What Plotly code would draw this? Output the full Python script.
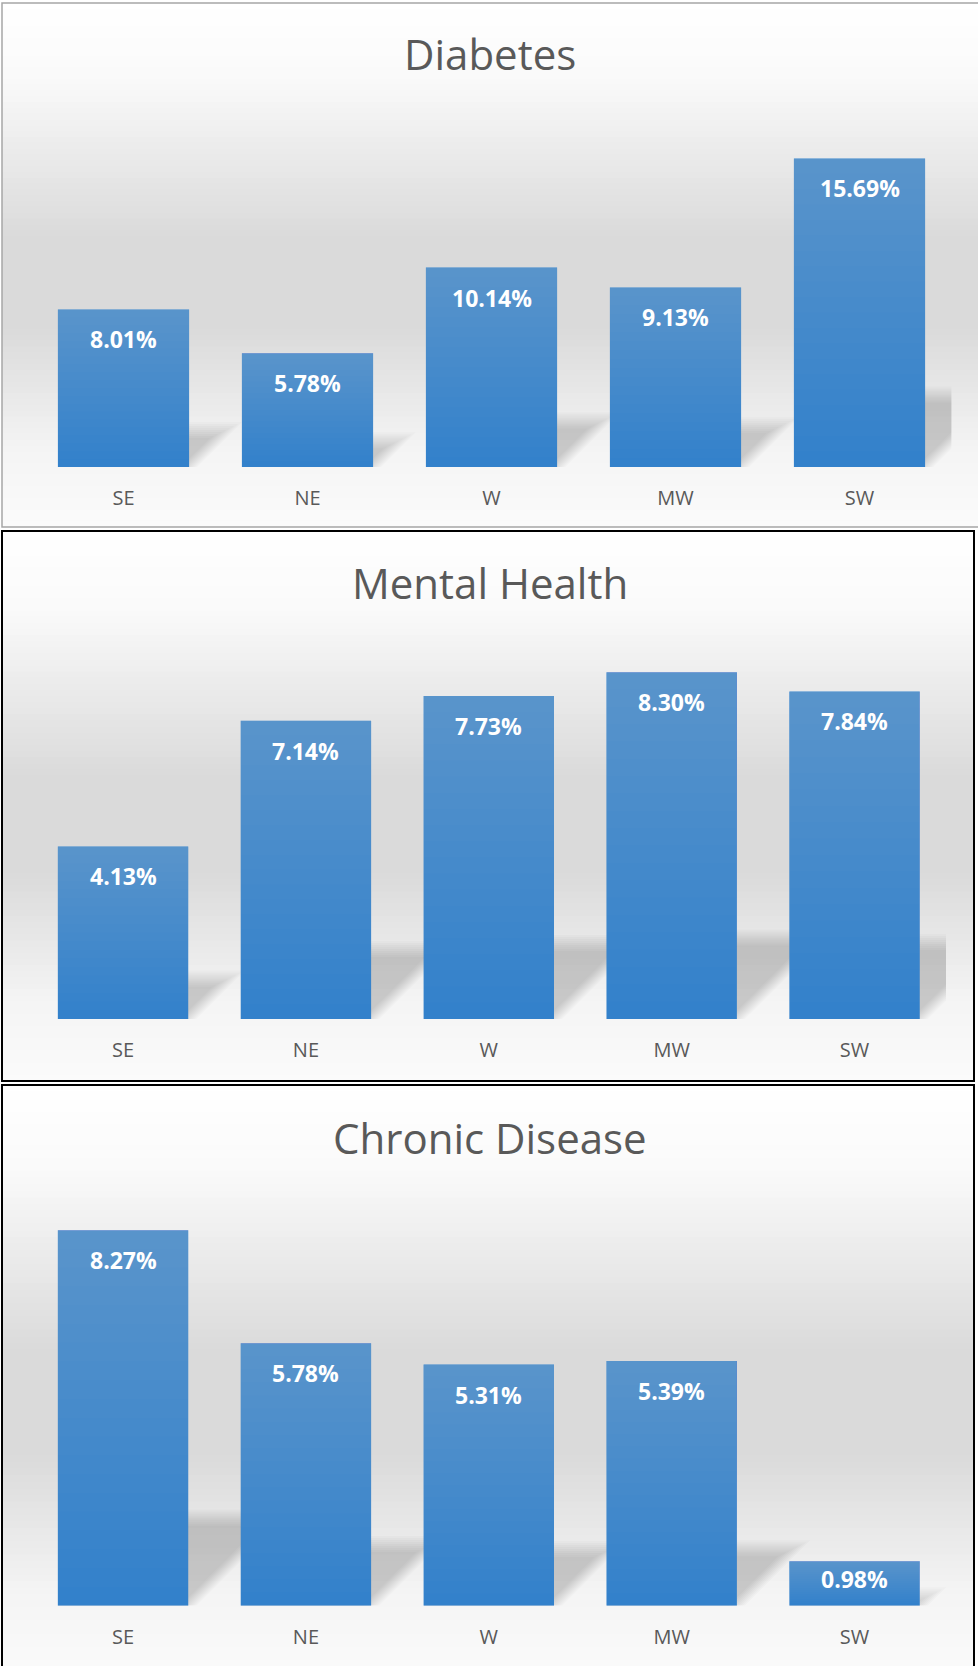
import plotly.graph_objects as go

# ---------------- data ----------------
regions = ["SE", "NE", "W", "MW", "SW"]
diabetes = [8.01, 5.78, 10.14, 9.13, 15.69]
mental_health = [4.13, 7.14, 7.73, 8.30, 7.84]
chronic_disease = [8.27, 5.78, 5.31, 5.39, 0.98]
titles = ["Diabetes", "Mental Health", "Chronic Disease"]

W, H = 978, 1666
FONT = "Open Sans"
GREY_TXT = "#595959"
BAR = "#3381cb"
BARGAP = 0.287


def py(p):
    """pixel (from top) -> paper y"""
    return 1 - p / H


def px(p):
    return p / W


fig = go.Figure()

panels = [
    # (series, x-domain px, y-domain px (bottom, top), y-range max, box px, border color, border width, title y)
    (diabetes, (31.5, 951.5), (467, 113), 18, (2, 3, 990, 527), "#a6a6a6", 1.5, 54),
    (mental_health, (31.6, 946), (1019, 643), 9, (2, 531, 974, 1081), "#000000", 2, 582),
    (chronic_disease, (31.6, 946), (1605.7, 1197), 9, (2, 1085, 974, 1680), "#000000", 2, 1137),
]

shapes = []
annotations = []


def grad_color(t):
    stops = [(0.0, 255), (0.14, 250), (0.45, 218), (0.62, 218), (0.85, 244), (1.0, 251)]
    for (t0, c0), (t1, c1) in zip(stops[:-1], stops[1:]):
        if t0 <= t <= t1:
            c = c0 + (c1 - c0) * (t - t0) / (t1 - t0)
            c = int(round(c))
            return f"rgb({c},{c},{c})"
    return "rgb(251,251,251)"


for i, (vals, xd, yd, ymax, box, bcol, bw, ty) in enumerate(panels):
    n = "" if i == 0 else str(i + 1)
    xa, ya = "x" + n, "y" + n
    # background gradient bands (overlapping slightly to avoid seams)
    x0, y0, x1, y1 = box
    nb = 90
    hb = (y1 - y0) / nb
    for k in range(nb):
        top = y0 + hb * k
        bot = min(y1, top + hb + 1.5)
        shapes.append(dict(
            type="rect", xref="paper", yref="paper", layer="below",
            x0=px(x0), x1=px(x1), y0=py(bot), y1=py(top),
            fillcolor=grad_color((k + 0.5) / nb), line=dict(width=0),
        ))
    # border
    shapes.append(dict(
        type="rect", xref="paper", yref="paper", layer="above",
        x0=px(x0), x1=px(x1), y0=py(y1), y1=py(y0),
        fillcolor="rgba(0,0,0,0)", line=dict(color=bcol, width=bw),
    ))

    # pixel scales of this subplot
    ppc = (xd[1] - xd[0]) / len(regions)          # pixels per category
    ppu = (yd[0] - yd[1]) / ymax                  # pixels per value unit
    half = (1 - BARGAP) / 2

    # soft perspective shadows behind the bars (derived from the values)
    for j, v in enumerate(vals):
        d = 0.235 * v * ppu                        # shadow depth in px
        for e in (-8, -6, -4, -2, 0, 2, 4, 6, 8):
            ht = max(d + e, 0)
            xr = j + half + e / ppc
            path = (f"M {j - half},0 L {xr},0 "
                    f"L {xr + ht / ppc},{ht / ppu} L {j - half + ht / ppc},{ht / ppu} Z")
            shapes.append(dict(
                type="path", path=path, xref=xa, yref=ya, layer="below",
                fillcolor="rgba(0,0,0,0.021)", line=dict(width=0),
            ))

    fig.add_trace(go.Bar(
        x=regions, y=vals, xaxis=xa, yaxis=ya,
        marker=dict(color=BAR, line=dict(width=0)),
        hoverinfo="skip", showlegend=False,
    ))

    # vertical light gradient on the bars (nested translucent layers)
    nl = 20
    for j, v in enumerate(vals):
        for k in range(1, nl):
            shapes.append(dict(
                type="rect", xref=xa, yref=ya, layer="above",
                x0=j - half, x1=j + half, y0=v * k / nl, y1=v,
                fillcolor="rgba(255,255,255,0.0115)", line=dict(width=0),
            ))

    for r, v in zip(regions, vals):
        annotations.append(dict(
            x=r, y=v, xref=xa, yref=ya, text=f"{v:.2f}%", showarrow=False,
            yanchor="middle", yshift=-18 if v < 2 else -30,
            font=dict(family=FONT, size=23, color="white", weight="bold"),
        ))

    annotations.append(dict(
        x=px(490), y=py(ty), xref="paper", yref="paper", text=titles[i],
        showarrow=False, xanchor="center", yanchor="middle",
        font=dict(family=FONT, size=42, color=GREY_TXT),
    ))

    fig.layout["xaxis" + n] = dict(
        domain=[px(xd[0]), px(xd[1])], anchor=ya, range=[-0.5, len(regions) - 0.5],
        autorange=False, showgrid=False, zeroline=False,
        showline=False, ticks="outside", ticklen=13, tickcolor="rgba(0,0,0,0)",
        tickfont=dict(family=FONT, size=20, color=GREY_TXT), fixedrange=True,
    )
    fig.layout["yaxis" + n] = dict(
        domain=[py(yd[0]), py(yd[1])], anchor=xa, range=[0, ymax], autorange=False,
        showgrid=False, zeroline=False, showline=False, showticklabels=False,
        fixedrange=True,
    )

fig.update_layout(
    width=W, height=H, margin=dict(l=0, r=0, t=0, b=0),
    paper_bgcolor="white", plot_bgcolor="rgba(0,0,0,0)",
    bargap=BARGAP, shapes=shapes, annotations=annotations,
    font=dict(family=FONT),
)

fig.write_html(
    "out.html",
    config={"displayModeBar": False},
    post_script="document.body.style.margin='0px';document.body.style.overflow='hidden';",
)
